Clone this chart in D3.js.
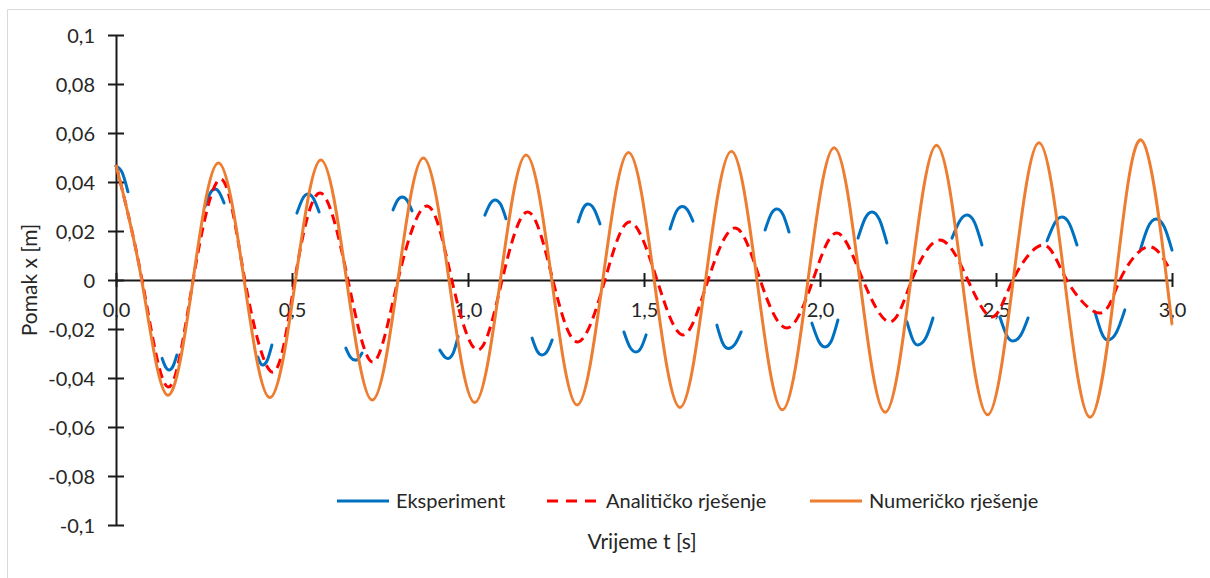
<!DOCTYPE html>
<html>
<head>
<meta charset="utf-8">
<script src="https://cdn.jsdelivr.net/npm/d3@7"></script>
<style>
  html, body { margin: 0; padding: 0; background: #fff; }
  svg { display: block; font-family: Lato, "Open Sans", sans-serif; }
</style>
</head>
<body>
<svg id="chart" width="1210" height="578"></svg>
<script>
// Displacement x [m] versus time t [s]

// Numerical solution: [t, x]
const numericalSeries = [
  [0.000, 0.0470], [0.073, 0], [0.146, -0.0470], [0.219, 0], [0.291, 0.0478],
  [0.364, 0], [0.437, -0.0480], [0.510, 0], [0.582, 0.0490], [0.655, 0],
  [0.728, -0.0490], [0.801, 0], [0.873, 0.0498], [0.946, 0], [1.019, -0.0500],
  [1.092, 0], [1.165, 0.0510], [1.238, 0], [1.310, -0.0510], [1.383, 0],
  [1.456, 0.0520], [1.529, 0], [1.602, -0.0520], [1.675, 0], [1.748, 0.0525],
  [1.821, 0], [1.893, -0.0530], [1.966, 0], [2.040, 0.0540], [2.113, 0],
  [2.185, -0.0540], [2.258, 0], [2.331, 0.0550], [2.404, 0], [2.476, -0.0550],
  [2.549, 0], [2.622, 0.0560], [2.695, 0], [2.767, -0.0560], [2.840, 0],
  [2.914, 0.0570], [2.985, 0], [3.000, -0.0180]
];

// Analytical solution: [t, x]
const analyticalSeries = [
  [0.000, 0.0470], [0.074, 0], [0.148, -0.0437], [0.219, 0], [0.298, 0.0412],
  [0.366, 0], [0.446, -0.0376], [0.508, 0], [0.580, 0.0355], [0.659, 0],
  [0.730, -0.0335], [0.801, 0], [0.884, 0.0302], [0.954, 0], [1.028, -0.0286],
  [1.097, 0], [1.170, 0.0278], [1.241, 0], [1.312, -0.0253], [1.389, 0],
  [1.460, 0.0237], [1.537, 0], [1.611, -0.0224], [1.682, 0], [1.759, 0.0212],
  [1.830, 0], [1.906, -0.0196], [1.980, 0], [2.048, 0.0192], [2.122, 0],
  [2.199, -0.0171], [2.261, 0], [2.341, 0.0163], [2.420, 0], [2.489, -0.0151],
  [2.548, 0], [2.634, 0.0143], [2.701, 0], [2.795, -0.0135], [2.852, 0],
  [2.929, 0.0135], [2.990, 0.0053]
];

// Experiment: recorded stretches around each extreme, [t, x]
const experimentSegments = [
  [[0.000, 0.0465], [0.017, 0.0440], [0.034, 0.0360]],
  [[0.131, -0.0320], [0.141, -0.0355], [0.151, -0.0367], [0.162, -0.0352], [0.173, -0.0306]],
  [[0.253, 0.0300], [0.267, 0.0353], [0.281, 0.0371], [0.294, 0.0356], [0.307, 0.0314]],
  [[0.403, -0.0314], [0.410, -0.0339], [0.418, -0.0347], [0.430, -0.0327], [0.443, -0.0265]],
  [[0.514, 0.0273], [0.530, 0.0331], [0.545, 0.0351], [0.561, 0.0333], [0.577, 0.0278]],
  [[0.653, -0.0278], [0.666, -0.0315], [0.679, -0.0327], [0.689, -0.0320], [0.699, -0.0298]],
  [[0.787, 0.0286], [0.800, 0.0326], [0.813, 0.0339], [0.827, 0.0325], [0.841, 0.0282]],
  [[0.920, -0.0286], [0.932, -0.0311], [0.943, -0.0320], [0.958, -0.0298], [0.972, -0.0230]],
  [[1.048, 0.0265], [1.063, 0.0311], [1.077, 0.0327], [1.093, 0.0308], [1.108, 0.0250]],
  [[1.182, -0.0237], [1.196, -0.0289], [1.210, -0.0306], [1.225, -0.0291], [1.239, -0.0245]],
  [[1.313, 0.0237], [1.327, 0.0292], [1.341, 0.0310], [1.358, 0.0290], [1.375, 0.0229]],
  [[1.443, -0.0212], [1.460, -0.0274], [1.477, -0.0294], [1.492, -0.0276], [1.506, -0.0224]],
  [[1.574, 0.0208], [1.591, 0.0277], [1.608, 0.0300], [1.624, 0.0285], [1.639, 0.0240]],
  [[1.707, -0.0184], [1.723, -0.0256], [1.739, -0.0280], [1.758, -0.0263], [1.776, -0.0212]],
  [[1.844, 0.0204], [1.861, 0.0269], [1.878, 0.0290], [1.895, 0.0267], [1.912, 0.0196]],
  [[1.977, -0.0176], [1.996, -0.0249], [2.014, -0.0273], [2.033, -0.0246], [2.051, -0.0163]],
  [[2.108, 0.0171], [2.128, 0.0251], [2.148, 0.0278], [2.169, 0.0246], [2.190, 0.0151]],
  [[2.247, -0.0171], [2.263, -0.0242], [2.278, -0.0265], [2.300, -0.0238], [2.321, -0.0155]],
  [[2.375, 0.0171], [2.397, 0.0241], [2.418, 0.0265], [2.439, 0.0235], [2.460, 0.0143]],
  [[2.511, -0.0151], [2.530, -0.0225], [2.548, -0.0249], [2.570, -0.0226], [2.591, -0.0155]],
  [[2.645, 0.0160], [2.667, 0.0233], [2.688, 0.0257], [2.709, 0.0228], [2.730, 0.0143]],
  [[2.781, -0.0130], [2.800, -0.0216], [2.818, -0.0245], [2.842, -0.0214], [2.866, -0.0122]],
  [[2.909, 0.0118], [2.932, 0.0216], [2.955, 0.0249], [2.978, 0.0217], [3.000, 0.0122]]
];

// Axis ticks and their labels
const xTickValues = [0, 0.5, 1.0, 1.5, 2.0, 2.5, 3.0];
const xTickLabels = ["0,0", "0,5", "1,0", "1,5", "2,0", "2,5", "3,0"];
const yTickValues = [0.1, 0.08, 0.06, 0.04, 0.02, 0, -0.02, -0.04, -0.06, -0.08, -0.1];
const yTickLabels = ["0,1", "0,08", "0,06", "0,04", "0,02", "0", "-0,02", "-0,04", "-0,06", "-0,08", "-0,1"];

const legendNames = ["Eksperiment", "Analitičko rješenje", "Numeričko rješenje"];
const xTitle = "Vrijeme t [s]";
const yTitle = "Pomak x [m]";

const colors = { experiment: "#0070C0", analytical: "#FF0000", numerical: "#ED7D31" };

const svg = d3.select("#chart");

// frame edges
svg.append("line").attr("x1", 7.5).attr("x2", 7.5).attr("y1", 9.5).attr("y2", 578)
  .attr("stroke", "#d9d9d9").attr("stroke-width", 1);
svg.append("line").attr("x1", 7.5).attr("x2", 1210).attr("y1", 9.5).attr("y2", 9.5)
  .attr("stroke", "#d9d9d9").attr("stroke-width", 1);

const x = d3.scaleLinear().domain([0, 3]).range([116, 1172]);
const y = d3.scaleLinear().domain([-0.1, 0.1]).range([525, 35]);

const axisColor = "#1a1a1a";
const textColor = "#262626";
const fontSize = 20;

// Y axis
const yAxis = d3.axisLeft(y)
  .tickValues(yTickValues)
  .tickFormat((d, i) => yTickLabels[i])
  .tickSizeInner(8).tickSizeOuter(0).tickPadding(13);
const yg = svg.append("g").attr("transform", `translate(${x(0)},0)`).call(yAxis);
yg.select(".domain").attr("stroke", axisColor).attr("stroke-width", 2);
yg.selectAll(".tick line").attr("stroke", axisColor).attr("stroke-width", 2).attr("x2", -8).attr("x1", 8);
yg.selectAll(".tick text").attr("fill", textColor).style("font-size", fontSize + "px")
  .style("font-family", "Lato, sans-serif").attr("x", -21).attr("dy", "0.35em");

// X axis along zero displacement
const xAxis = d3.axisBottom(x)
  .tickValues(xTickValues)
  .tickFormat((d, i) => xTickLabels[i])
  .tickSizeInner(7).tickSizeOuter(0).tickPadding(8);
const xg = svg.append("g").attr("transform", `translate(0,${y(0)})`).call(xAxis);
xg.select(".domain").attr("stroke", axisColor).attr("stroke-width", 2);
xg.selectAll(".tick line").attr("stroke", axisColor).attr("stroke-width", 2).attr("y1", -7).attr("y2", 7);
xg.selectAll(".tick text").attr("fill", textColor).style("font-size", fontSize + "px")
  .style("font-family", "Lato, sans-serif").attr("y", 30).attr("dy", "0.35em");

const line = d3.line()
  .x(d => x(d[0]))
  .y(d => y(d[1]))
  .curve(d3.curveNatural);

// Experiment stretches
svg.append("g").selectAll("path")
  .data(experimentSegments)
  .join("path")
  .attr("d", line)
  .attr("fill", "none")
  .attr("stroke", colors.experiment)
  .attr("stroke-width", 3)
  .attr("stroke-linecap", "round");

// Analytical solution
svg.append("path")
  .datum(analyticalSeries)
  .attr("d", line)
  .attr("fill", "none")
  .attr("stroke", colors.analytical)
  .attr("stroke-width", 3)
  .attr("stroke-dasharray", "10,6");

// Numerical solution
svg.append("path")
  .datum(numericalSeries)
  .attr("d", line)
  .attr("fill", "none")
  .attr("stroke", colors.numerical)
  .attr("stroke-width", 3)
  .attr("stroke-linejoin", "round");

// Legend
const legendY = 501;
const legendItems = [
  { name: legendNames[0], color: colors.experiment, dash: null, x0: 337 },
  { name: legendNames[1], color: colors.analytical, dash: "11,8", x0: 547 },
  { name: legendNames[2], color: colors.numerical, dash: null, x0: 810 }
];
const lg = svg.append("g");
legendItems.forEach(item => {
  lg.append("line")
    .attr("x1", item.x0).attr("x2", item.x0 + 52)
    .attr("y1", legendY).attr("y2", legendY)
    .attr("stroke", item.color).attr("stroke-width", 3)
    .attr("stroke-dasharray", item.dash);
  lg.append("text")
    .attr("x", item.x0 + 59).attr("y", legendY).attr("dy", "0.35em")
    .attr("fill", textColor).style("font-size", fontSize + "px")
    .text(item.name);
});

// Axis titles
svg.append("text")
  .attr("x", 642).attr("y", 549)
  .attr("text-anchor", "middle").attr("fill", textColor)
  .style("font-size", "21px")
  .text(xTitle);

svg.append("text")
  .attr("transform", "translate(37,280) rotate(-90)")
  .attr("text-anchor", "middle").attr("fill", textColor)
  .style("font-size", "21px")
  .text(yTitle);
</script>
</body>
</html>
